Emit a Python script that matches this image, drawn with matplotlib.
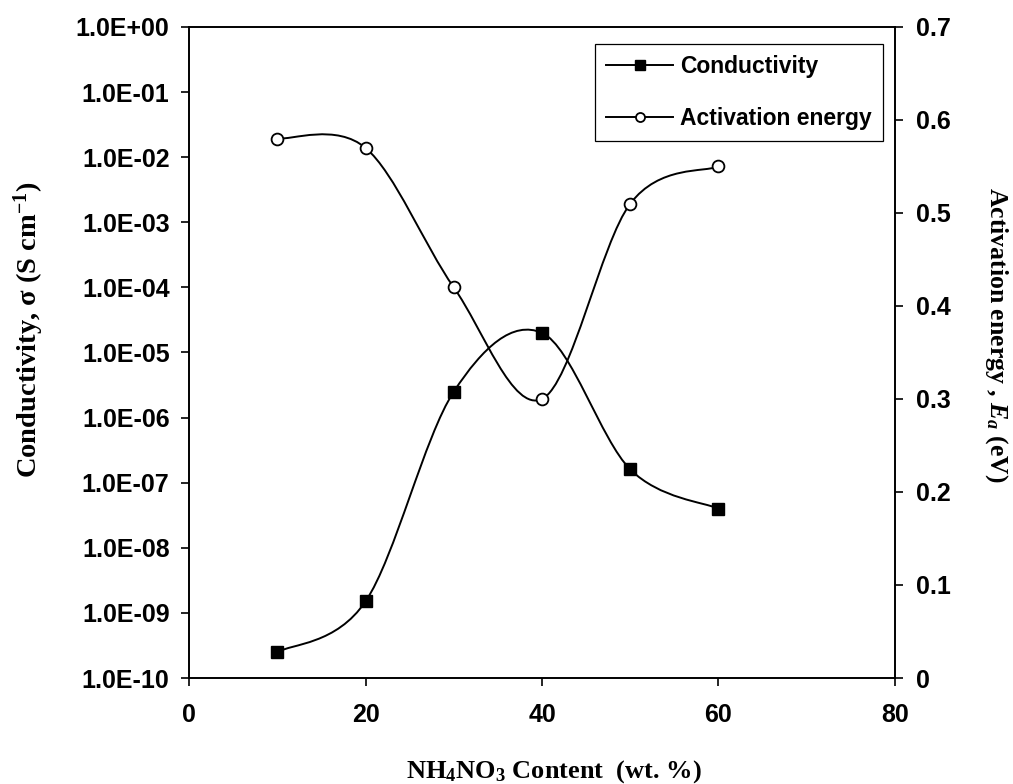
import numpy as np
import matplotlib
matplotlib.use('Agg')
import matplotlib.pyplot as plt
from matplotlib.path import Path
from matplotlib.patches import PathPatch
from matplotlib.lines import Line2D
from matplotlib.ticker import FixedLocator, FuncFormatter

plt.rcParams['font.family'] = 'Liberation Sans'
plt.rcParams['mathtext.fontset'] = 'custom'
plt.rcParams['mathtext.rm'] = 'Liberation Serif:bold'
plt.rcParams['mathtext.bf'] = 'Liberation Serif:bold'
plt.rcParams['mathtext.it'] = 'Liberation Serif:bold:italic'

# data
content = [10, 20, 30, 40, 50, 60]
conductivity = [2.5e-10, 1.5e-9, 2.5e-6, 2.0e-5, 1.6e-7, 4.0e-8]
activation = [0.58, 0.57, 0.42, 0.30, 0.51, 0.55]


def smooth_path(x, y):
    # Excel-style smoothed line: cubic bezier segments (Catmull-Rom tangents)
    x = np.asarray(x, float)
    y = np.asarray(y, float)
    n = len(x)
    verts = [(x[0], y[0])]
    codes = [Path.MOVETO]
    for i in range(n - 1):
        p0 = max(i - 1, 0)
        p3 = min(i + 2, n - 1)
        c1 = (x[i] + (x[i + 1] - x[p0]) / 6, y[i] + (y[i + 1] - y[p0]) / 6)
        c2 = (x[i + 1] - (x[p3] - x[i]) / 6, y[i + 1] - (y[p3] - y[i]) / 6)
        verts += [c1, c2, (x[i + 1], y[i + 1])]
        codes += [Path.CURVE4] * 3
    return np.array(verts), codes


fig = plt.figure(figsize=(10.13, 7.84), dpi=100)
ax = fig.add_axes([0.1866, 0.1352, 0.6969, 0.8304])
ax2 = ax.twinx()

lw = 1.4
# conductivity curve, smoothed in log space
v, c = smooth_path(content, np.log10(conductivity))
v[:, 1] = 10 ** v[:, 1]
ax.add_patch(PathPatch(Path(v, c), facecolor='none', edgecolor='black', lw=lw))
ax.plot(content, conductivity, 's', color='black', ms=8.5, zorder=3)

v, c = smooth_path(content, activation)
ax2.add_patch(PathPatch(Path(v, c), facecolor='none', edgecolor='black', lw=lw))
ax2.plot(content, activation, 'o', mfc='white', mec='black', mew=1.3, ms=8.5, zorder=3)

ax.set_yscale('log')
ax.set_xlim(0, 80)
ax.set_ylim(1e-10, 1)
ax2.set_ylim(0, 0.7)

ax.xaxis.set_major_locator(FixedLocator([0, 20, 40, 60, 80]))
ax.yaxis.set_major_locator(FixedLocator([10.0 ** k for k in range(-10, 1)]))
ax.yaxis.set_minor_locator(FixedLocator([]))
ax.yaxis.set_major_formatter(FuncFormatter(lambda v, p: f'{v:.1E}'))
ax2.yaxis.set_major_locator(FixedLocator(np.arange(0, 8) / 10))
ax2.yaxis.set_major_formatter(FuncFormatter(lambda v, p: '0' if abs(v) < 1e-9 else f'{v:.1f}'))

for a in (ax, ax2):
    for s in a.spines.values():
        s.set_linewidth(1.2)
    a.tick_params(width=1.2, length=6, labelsize=18)
    for lab in a.get_xticklabels() + a.get_yticklabels():
        lab.set_fontweight('bold')
ax.tick_params(axis='x', pad=12)
ax.tick_params(axis='y', pad=8)
ax2.tick_params(axis='y', pad=9)

ax.set_xlabel(r'NH$_4$NO$_3$ Content  (wt. %)', fontsize=19, family='Liberation Serif',
              fontweight='bold', va='top')
ax.xaxis.set_label_coords(0.517, -0.123)
ax.set_ylabel(r'Conductivity, σ (S cm$^{-1}$)', fontsize=20.5, family='Liberation Serif',
              fontweight='bold')
ax.yaxis.set_label_coords(-0.203, 0.535)
ax2.set_ylabel(r'Activation energy , $E_a$ (eV)', fontsize=18.5, family='Liberation Serif',
               fontweight='bold', rotation=270, va='bottom')
ax2.yaxis.set_label_coords(1.124, 0.527)

handles = [
    Line2D([], [], color='black', lw=lw, marker='s', ms=7),
    Line2D([], [], color='black', lw=lw, marker='o', ms=6.5, mfc='white', mew=1.3),
]
leg = ax2.legend(handles, ['Conductivity', 'Activation energy'], loc='upper right',
                 bbox_to_anchor=(0.983, 0.974), borderaxespad=0, fancybox=False,
                 framealpha=1, edgecolor='black', handlelength=2.9, handletextpad=0.3,
                 prop={'weight': 'bold', 'size': 16.5}, borderpad=0.5, labelspacing=1.25)
leg.get_frame().set_linewidth(0.9)

fig.savefig('out.png', dpi=100)
